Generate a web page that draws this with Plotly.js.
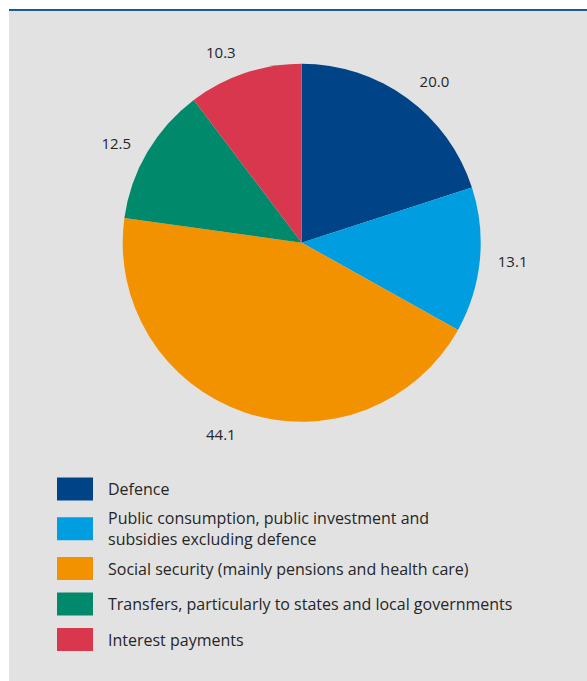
<!DOCTYPE html>
<html><head><meta charset="utf-8">
<script src="https://cdn.plot.ly/plotly-3.0.1.min.js"></script>
<style>html,body{margin:0;padding:0;background:#fff}</style>
</head><body><div id="chart" style="width:587px;height:681px"></div>
<script>
const categories = ['Defence', 'Public consumption, public investment and<br>subsidies excluding defence', 'Social security (mainly pensions and health care)', 'Transfers, particularly to states and local governments', 'Interest payments'];
const values = [20.0, 13.1, 44.1, 12.5, 10.3];
const colors = ['#004487', '#009ee0', '#f39200', '#00896a', '#d8374e'];

const W = 587, H = 681;
const px = x => x / W;
const py = y => 1 - y / H;
const FONT = 'Open Sans, Noto Sans, sans-serif';
const TXT = '#262626';

// pie geometry (pixels)
const cx = 301.7, cy = 242.7, R = 179, RL = 192;

const pie = {
  type: 'pie',
  labels: categories,
  values: values,
  textinfo: 'none',
  sort: false,
  direction: 'clockwise',
  rotation: 0,
  marker: {colors: colors, line: {width: 0}},
  showlegend: false,
  hoverinfo: 'none',
  domain: {x: [px(cx - R), px(cx + R)], y: [py(cy + R), py(cy - R)]}
};
// transparent companion pie that only carries the value labels a little further out
const labelsPie = {
  type: 'pie',
  labels: categories,
  values: values,
  text: values.map(v => v.toFixed(1)),
  textinfo: 'text',
  textposition: 'outside',
  sort: false,
  direction: 'clockwise',
  rotation: 0,
  marker: {colors: values.map(() => 'rgba(0,0,0,0)'), line: {width: 0}},
  outsidetextfont: {family: FONT, size: 15, color: TXT},
  showlegend: false,
  hoverinfo: 'none',
  domain: {x: [px(cx - RL), px(cx + RL)], y: [py(cy + RL), py(cy - RL)]}
};

const shapes = [
  {type: 'rect', xref: 'paper', yref: 'paper', x0: px(9), x1: px(587), y0: py(681), y1: py(10), fillcolor: '#e2e2e2', line: {width: 0}, layer: 'below'},
  {type: 'line', xref: 'paper', yref: 'paper', x0: px(9), x1: px(587), y0: py(10), y1: py(10), line: {color: '#1b5a98', width: 2}}
];
const annotations = [];

// manual legend built from the arrays
let y = 0;
categories.forEach((c, i) => {
  const lines = c.split('<br>').length;
  const h = lines > 1 ? 44 : 35.5;
  if (i === 0) y = 489 - h / 2;
  const yc = y + h / 2;
  shapes.push({type: 'rect', xref: 'paper', yref: 'paper', x0: px(57), x1: px(93), y0: py(yc - 11.5), y1: py(yc + 11.5), fillcolor: colors[i], line: {width: 0}});
  annotations.push({xref: 'paper', yref: 'paper', x: px(106), y: py(yc), xanchor: 'left', yanchor: 'middle', align: 'left', showarrow: false, text: c, font: {family: FONT, size: 16, color: TXT}});
  y += h;
});

const layout = {
  width: W, height: H,
  margin: {l: 0, r: 0, t: 0, b: 0},
  paper_bgcolor: '#ffffff',
  plot_bgcolor: 'rgba(0,0,0,0)',
  shapes: shapes,
  annotations: annotations,
  showlegend: false
};
Plotly.newPlot('chart', [pie, labelsPie], layout, {displayModeBar: false, staticPlot: true});
</script></body></html>
